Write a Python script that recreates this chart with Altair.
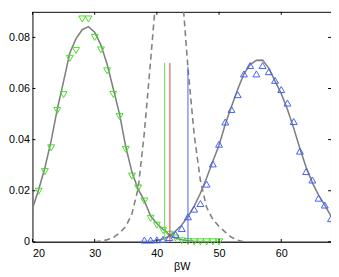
import altair as alt
import pandas as pd

# ---- data ----
x_vals = list(range(20, 69))
left_fit = [0.013, 0.0205, 0.029, 0.0395, 0.052, 0.0628, 0.0739, 0.0795, 0.083, 0.0842,
            0.082, 0.0771, 0.0695, 0.0598, 0.050, 0.0372, 0.0272, 0.0205, 0.016, 0.0101,
            0.0072, 0.0049, 0.0028, 0.0015, 0.0008, 0.0004, 0.0002, 0.0001, 0, 0,
            0, 0, 0, 0, 0, 0, 0, 0, 0, 0,
            0, 0, 0, 0, 0, 0, 0, 0, 0]
right_fit = [0, 0, 0, 0, 0, 0, 0, 0, 0, 0,
             0, 0, 0, 0, 0, 0, 0, 0, 0.0001, 0.0002,
             0.0005, 0.0011, 0.0022, 0.0042, 0.0066, 0.0099, 0.014, 0.019, 0.025, 0.0315,
             0.0378, 0.046, 0.053, 0.0597, 0.0657, 0.0694, 0.071, 0.0711, 0.068, 0.0629,
             0.058, 0.0518, 0.0445, 0.0365, 0.0292, 0.0232, 0.0183, 0.0144, 0.0101]
dash_x = list(range(30, 55))
dash_y = [0.0, 0.0003, 0.0008, 0.0017, 0.0035, 0.006, 0.011, 0.021, 0.043, 0.071,
          0.100, 0.123, 0.132, 0.125, 0.100, 0.068, 0.042, 0.024, 0.0135, 0.0088,
          0.006, 0.0038, 0.0018, 0.0006, 0.0]
green_x = list(range(21, 51))
green_y = [0.0198, 0.0275, 0.0368, 0.0514, 0.0576, 0.0718, 0.0749, 0.0872, 0.0872, 0.080,
           0.0751, 0.0669, 0.0577, 0.049, 0.0362, 0.0257, 0.0211, 0.016, 0.0092, 0.0065,
           0.0044, 0.003, 0.0015, 0.0004, 0.0001, 0.0, 0.0, 0.0, 0.0, 0.0]
blue_x = list(range(38, 69))
blue_y = [0.0007, 0.0007, 0.0008, 0.001, 0.0017, 0.0029, 0.0052, 0.0098, 0.0128, 0.015,
          0.0226, 0.0305, 0.0382, 0.0469, 0.0518, 0.0576, 0.0657, 0.069, 0.0657, 0.069,
          0.0666, 0.0632, 0.0596, 0.0543, 0.0471, 0.0355, 0.0275, 0.0242, 0.0171, 0.0144,
          0.0091]
vline_x = [41.25, 42.1, 45.0]
vline_top = [0.070, 0.070, 0.0685]
vline_names = ["green", "red", "blue"]
vline_colors = ["#66dd44", "#e23a3a", "#4466ee"]
x_ticks = [20, 30, 40, 50, 60]
y_ticks = [0, 0.02, 0.04, 0.06, 0.08]

W, H = 305, 235
FONT = "Liberation Sans"

xs = alt.Scale(domain=[20, 68], nice=False, zero=False)
ys = alt.Scale(domain=[0, 0.09], nice=False, zero=False)
X = alt.X("x:Q", scale=xs, axis=alt.Axis(values=x_ticks, title="βW", labelPadding=6,
                                          titlePadding=2, format="d", grid=False,
                                          ticks=False, tickSize=0, domain=False))
Y = alt.Y("y:Q", scale=ys, axis=alt.Axis(values=y_ticks, title=None, labelPadding=3,
                                          grid=False, ticks=False, tickSize=0, domain=False,
                                          labelExpr="datum.value == 0 ? '0' : format(datum.value, '.2f')"))

curves = pd.DataFrame({
    "x": x_vals + x_vals,
    "y": left_fit + right_fit,
    "s": ["left"] * len(x_vals) + ["right"] * len(x_vals),
})
dash_df = pd.DataFrame({"x": dash_x, "y": dash_y})
green_df = pd.DataFrame({"x": green_x, "y": green_y})
blue_df = pd.DataFrame({"x": blue_x, "y": blue_y})
vl_df = pd.DataFrame({"x": vline_x, "y": [0.0] * 3, "y2": vline_top, "c": vline_names})
xt_df = pd.DataFrame({"x": x_ticks})
yt_df = pd.DataFrame({"y": y_ticks})

solid = alt.Chart(curves).mark_line(color="#808080", strokeWidth=1.6, clip=True).encode(
    x=X, y=Y, detail="s:N")
dashed = alt.Chart(dash_df).mark_line(color="#808080", strokeWidth=1.6, strokeDash=[6, 4],
                                      clip=True).encode(x=X, y=Y)
green = alt.Chart(green_df).mark_point(shape="triangle-down", filled=False, color="#44dd22",
                                       size=50, strokeWidth=1, opacity=1).encode(x=X, y=Y)
blue = alt.Chart(blue_df).mark_point(shape="triangle-up", filled=False, color="#3f5fff",
                                     size=50, strokeWidth=1, opacity=1).encode(x=X, y=Y)
vlines = alt.Chart(vl_df).mark_rule(strokeWidth=1).encode(
    x=X, y=Y, y2="y2:Q",
    color=alt.Color("c:N", scale=alt.Scale(domain=vline_names, range=vline_colors), legend=None))

tb = alt.Chart(xt_df).mark_rule(color="black", strokeWidth=1).encode(
    x=X, y=alt.value(H), y2=alt.value(H - 3))
tt = alt.Chart(xt_df).mark_rule(color="black", strokeWidth=1).encode(
    x=X, y=alt.value(0), y2=alt.value(3))
tl = alt.Chart(yt_df).mark_rule(color="black", strokeWidth=1).encode(
    y=Y, x=alt.value(0), x2=alt.value(3))
tr = alt.Chart(yt_df).mark_rule(color="black", strokeWidth=1).encode(
    y=Y, x=alt.value(W - 3), x2=alt.value(W))

chart = alt.layer(solid, dashed, green, blue, vlines, tb, tt, tl, tr).properties(
    width=W, height=H,
    background="white",
    autosize=alt.AutoSizeParams(type="none"),
    padding={"left": 25, "top": 1, "right": 0, "bottom": 33},
).configure_view(stroke="black", strokeWidth=1).configure_axis(
    labelFont=FONT, labelFontSize=11, labelColor="black",
    titleFont=FONT, titleFontSize=11, titleFontWeight="normal", titleColor="black",
)

chart.save("out.html", embed_options={"renderer": "svg", "actions": False})
